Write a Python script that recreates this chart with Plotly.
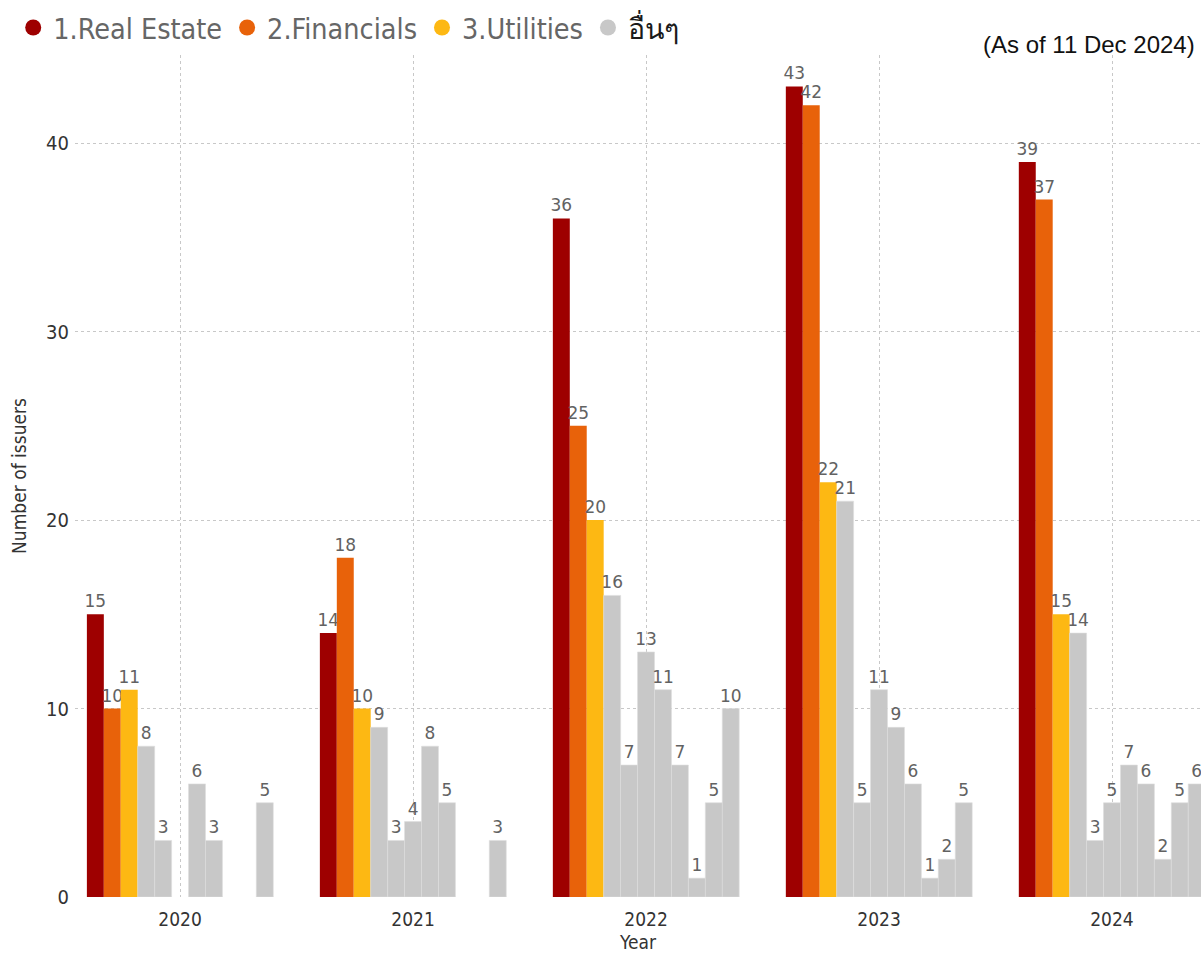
import plotly.graph_objects as go

years = ["2020", "2021", "2022", "2023", "2024"]

real_estate = [15, 14, 36, 43, 39]
financials = [10, 18, 25, 42, 37]
utilities = [11, 10, 20, 22, 15]

# the remaining sectors, all drawn grey ("others")
others = [
    [8, 9, 16, 21, 14],
    [3, 3, 7, 5, 3],
    [None, 4, 13, 11, 5],
    [6, 8, 11, 9, 7],
    [3, 5, 7, 6, 6],
    [None, None, 1, 1, 2],
    [None, None, 5, 2, 5],
    [5, 3, 10, 5, 6],
]

main_names = ["1.Real Estate", "2.Financials", "3.Utilities"]
main_colors = ["#9e0000", "#e8620a", "#fdb813"]
grey = "#c8c8c8"
others_name = "อื่นๆ"

font_din = "DejaVu Sans Condensed, DejaVu Sans, sans-serif"
label_font = dict(family="DejaVu Sans, sans-serif", size=17, color="#626262")

fig = go.Figure()

for name, vals, col in zip(main_names, [real_estate, financials, utilities], main_colors):
    fig.add_trace(go.Bar(
        x=years, y=vals, name=name, marker_color=col, marker_line_width=0,
        text=[v if v is not None else "" for v in vals], textposition="outside",
        textfont=label_font, cliponaxis=False, constraintext="none", showlegend=False))

for vals in others:
    fig.add_trace(go.Bar(
        x=years, y=vals, name=others_name, marker_color=grey,
        marker_line=dict(color="#dedede", width=0.6),
        text=[v if v is not None else "" for v in vals], textposition="outside",
        textfont=label_font, cliponaxis=False, constraintext="none", showlegend=False))

# legend entries with round markers
legend_labels = main_names + ["<span style='color:#1a1a1a'>" + others_name + "</span>"]
for name, col in zip(legend_labels, main_colors + [grey]):
    fig.add_trace(go.Scatter(x=[None], y=[None], mode="markers", name=name,
                             marker=dict(color=col, size=20, symbol="circle")))

fig.update_layout(
    width=1201, height=954,
    margin=dict(l=75, r=0, t=55, b=57),
    paper_bgcolor="white", plot_bgcolor="white",
    barmode="group", bargap=0.2, bargroupgap=0,
    font=dict(family=font_din, color="#333333"),
    legend=dict(orientation="h", xref="container", yref="container",
                x=0.011, y=1 - 28 / 954, xanchor="left", yanchor="middle",
                font=dict(family=font_din, size=28.5, color="#666666"),
                traceorder="normal"),
    annotations=[dict(text="(As of 11 Dec 2024)", xref="paper", yref="paper",
                      x=1122 / 1126, y=(897 - 44) / 842, xanchor="right", yanchor="middle",
                      showarrow=False,
                      font=dict(family="Liberation Sans, Arial, sans-serif", size=24, color="#111111"))],
)

fig.update_xaxes(type="category", range=[-0.451, 4.382],
                 showgrid=True, gridcolor="#c8c8c8", griddash="dot", gridwidth=1,
                 tickfont=dict(size=19, color="#333333"), ticks="", ticklabelstandoff=9,
                 title=dict(text="Year", font=dict(size=19, color="#333333"), standoff=6),
                 showline=False, zeroline=False)

fig.update_yaxes(range=[0, 44.67], dtick=10,
                 showgrid=True, gridcolor="#c8c8c8", griddash="dot", gridwidth=1,
                 tickfont=dict(size=20, color="#333333"), ticks="", ticklabelstandoff=5,
                 title=dict(text="Number of issuers", font=dict(size=19, color="#333333"), standoff=14),
                 showline=False, zeroline=False)

# drop the default 8px body margin so the figure fills the window exactly
fig.write_html("out.html", config={"displayModeBar": False},
               post_script="document.body.style.margin='0';")
